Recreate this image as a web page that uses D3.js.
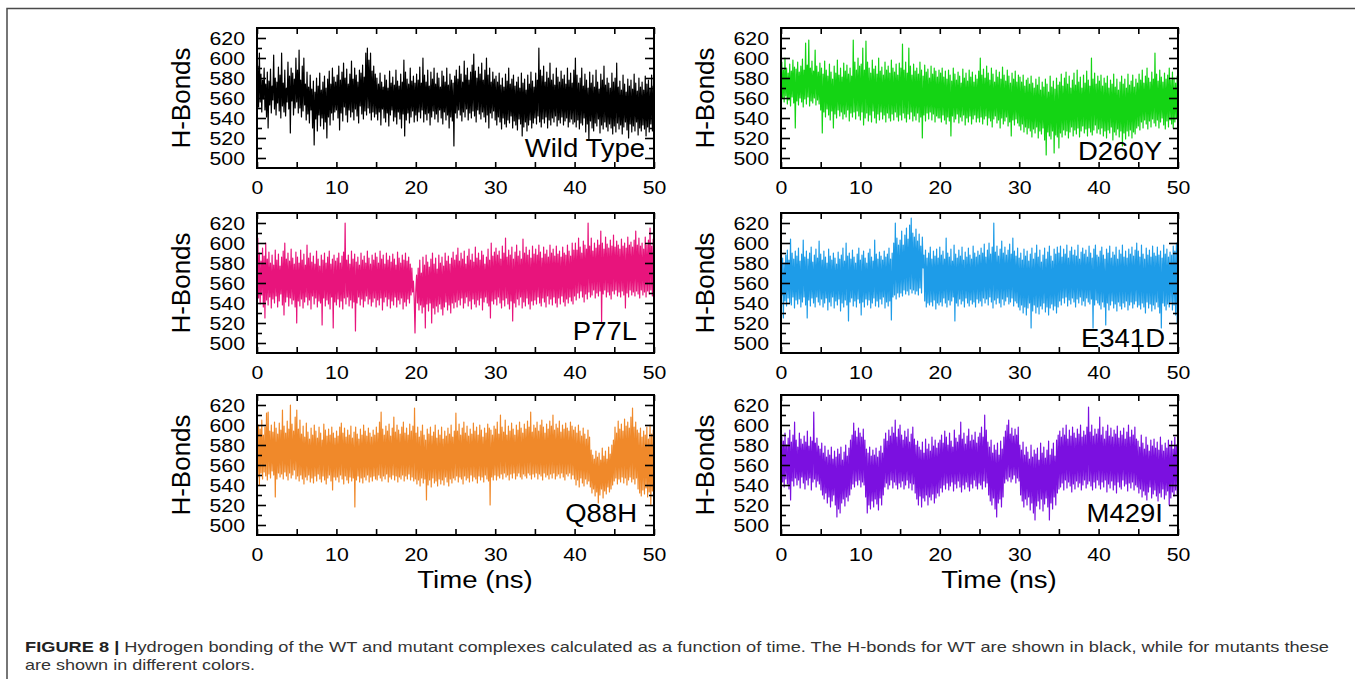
<!DOCTYPE html>
<html>
<head>
<meta charset="utf-8">
<script src="https://cdn.jsdelivr.net/npm/d3@7"></script>
<style>
  html, body { margin: 0; padding: 0; background: #fff; }
  svg { display: block; }
  text { font-family: "Liberation Sans", Arial, Helvetica, sans-serif; }
</style>
</head>
<body>
<svg id="fig" width="1355" height="683"></svg>
<script>
// ---- data -------------------------------------------------------------
const timeRange = [0, 50];            // ns
const hbondRange = [490, 630];        // number of H-bonds
const xTickMajor = [0, 10, 20, 30, 40, 50];
const xTickMinor = [5, 15, 25, 35, 45];
const yTickMajor = [500, 520, 540, 560, 580, 600, 620];
const yTickMinor = [510, 530, 550, 570, 590, 610];
const seriesNames = ["Wild Type", "D260Y", "P77L", "E341D", "Q88H", "M429I"];

// H-bond counts sampled every ~0.1 ns over the 50 ns run (one row ≈ 5 ns)
const wildType = [
  570,592,551,605,556,584,546,578,559,590,548,574,541,586,530,577,553,589,545,572,558,603,549,580,543,576,555,591,547,583,540,605,552,575,546,588,542,570,556,596,549,582,525,590,557,585,543,579,550,600,
  556,588,545,608,550,578,541,592,547,600,553,574,538,586,544,571,535,583,548,569,530,577,513,566,539,580,527,572,543,585,532,568,540,576,529,582,536,570,520,579,541,587,533,574,545,590,538,581,546,576,
  548,583,540,592,528,578,545,586,537,595,551,580,543,589,536,574,548,584,541,597,546,579,538,590,549,583,542,576,535,588,552,585,544,593,539,581,547,605,543,610,550,598,545,605,538,587,546,592,541,584,
  544,580,538,574,546,585,533,576,549,571,540,583,536,578,545,570,532,587,543,575,548,581,537,573,541,588,534,577,546,572,539,584,530,576,544,598,522,586,538,579,545,574,535,590,541,577,547,582,536,575,
  543,584,537,578,546,591,540,575,548,600,536,583,544,576,538,588,545,572,533,586,541,579,547,590,539,574,544,585,536,580,548,571,540,587,534,582,546,576,538,590,543,573,530,584,541,578,537,575,512,582,
  545,588,540,579,548,592,543,584,537,576,546,597,541,583,549,590,538,578,545,586,540,593,547,604,542,587,536,580,548,591,544,584,539,595,546,578,541,588,536,600,543,583,530,590,545,576,540,586,547,579,
  538,582,533,576,541,585,536,573,529,580,540,571,534,584,531,577,538,590,535,574,542,579,530,583,537,572,533,576,528,581,539,570,534,585,522,575,531,579,536,568,527,583,533,574,538,586,530,577,535,571,
  540,585,534,578,542,610,536,588,531,582,539,592,535,576,541,586,530,580,538,595,533,578,540,584,536,573,542,590,532,581,538,576,535,587,541,579,533,583,537,574,540,590,531,578,536,585,539,575,534,588,
  536,600,531,583,538,575,529,580,535,590,533,572,540,584,526,578,534,570,518,586,537,575,530,583,527,571,535,588,532,576,539,569,525,584,533,578,529,592,536,573,531,580,527,575,534,570,530,585,524,576,
  532,580,526,595,535,571,529,577,533,568,524,583,531,574,536,566,528,579,520,572,534,578,526,569,532,584,527,575,536,567,523,580,530,571,527,576,533,568,529,582,522,574,531,578,526,569,534,583,527,572,
  545
];
const d260y = [
  575,596,560,588,556,600,562,590,554,585,558,594,552,587,561,598,555,591,530,589,557,596,553,586,560,592,556,599,551,588,559,615,554,593,561,618,552,590,557,597,555,587,560,608,553,592,558,586,554,595,
  548,590,525,584,546,597,541,588,549,582,543,594,538,586,547,579,530,592,544,585,540,598,548,583,542,590,546,581,539,595,544,587,541,593,548,584,537,590,545,582,541,618,546,596,539,588,547,600,542,592,
  538,594,546,610,533,588,540,617,545,596,537,590,543,585,536,598,547,589,540,592,535,584,544,600,538,587,546,591,539,583,543,596,536,588,545,592,540,585,537,598,544,590,538,586,546,594,541,583,537,595,
  543,590,538,614,545,588,540,596,536,585,544,610,539,592,546,583,537,594,542,587,538,590,545,584,536,596,541,588,520,582,543,593,537,586,545,589,539,580,546,592,538,584,544,590,536,587,542,581,540,588,
  540,585,536,590,543,581,538,587,534,579,541,588,537,583,522,577,542,590,536,584,539,578,544,586,535,582,541,575,537,589,543,580,533,585,540,577,536,588,542,581,534,586,539,576,543,583,536,579,540,587,
  536,600,541,583,534,589,539,580,542,592,533,585,540,578,537,590,531,584,539,576,542,588,535,581,538,586,530,579,540,591,534,583,537,577,541,588,532,582,536,575,522,585,538,579,533,587,539,576,535,583,
  532,581,528,576,534,583,526,572,531,578,524,580,530,574,527,582,521,575,529,570,525,579,531,573,520,581,527,568,524,576,530,571,518,579,503,574,526,566,522,582,519,571,527,577,505,569,523,580,521,573,
  510,576,525,584,521,572,528,580,523,586,527,574,520,582,526,570,531,578,522,585,528,573,524,588,530,576,521,581,527,570,532,583,525,575,529,587,522,578,530,572,526,600,523,579,528,585,533,574,525,582,
  529,577,524,583,530,572,522,580,527,575,520,582,528,570,525,578,531,574,518,584,526,571,523,579,529,568,521,576,527,582,512,574,525,579,519,570,527,584,522,573,528,577,520,583,526,571,524,579,530,575,
  532,584,528,578,536,588,530,575,538,582,534,590,529,580,537,576,531,586,539,579,535,605,532,584,538,577,530,588,536,581,540,576,533,585,529,579,537,583,531,590,538,578,534,586,530,580,536,575,540,582,
  560
];
const p77l = [
  572,605,545,590,539,582,548,595,536,587,525,600,543,584,538,591,546,580,535,588,544,578,540,593,547,583,536,589,542,577,549,586,538,592,528,600,541,584,546,590,537,582,545,594,539,585,543,579,536,591,
  520,586,542,580,537,593,544,583,535,589,541,578,546,598,538,585,543,590,534,581,547,587,539,579,545,592,536,584,542,577,540,588,518,583,545,590,537,580,543,586,539,592,534,579,546,584,515,588,541,582,
  538,585,544,590,536,580,542,587,534,591,545,620,539,583,546,588,537,579,543,592,535,584,541,589,512,581,540,586,546,578,538,590,544,583,536,587,542,580,547,592,539,585,544,579,537,588,541,583,545,590,
  536,586,543,580,538,592,545,584,533,588,541,579,546,590,537,583,544,587,535,581,542,589,538,584,546,578,536,591,543,585,539,580,545,588,534,583,541,590,537,582,544,586,540,579,548,575,551,562,545,510,
  552,568,540,575,533,583,538,570,530,586,536,578,515,588,539,581,532,576,540,584,520,590,535,579,529,585,537,574,531,588,539,580,534,586,528,577,536,590,541,582,533,587,538,579,530,585,540,591,535,583,
  541,588,536,595,543,582,538,590,545,584,535,592,540,579,546,587,537,594,542,583,534,589,544,581,539,596,536,585,543,590,538,583,545,592,533,588,541,579,546,586,540,594,537,583,525,600,542,587,539,591,
  544,595,538,588,546,592,540,584,535,597,543,590,537,605,545,586,539,593,534,588,542,596,522,584,540,591,536,598,544,587,538,592,546,584,535,604,541,590,537,596,545,588,539,593,534,585,542,597,538,589,
  543,594,539,588,546,598,540,591,537,585,545,596,541,589,536,593,547,586,539,598,544,590,538,594,546,587,540,597,536,589,545,592,539,586,547,596,541,590,537,588,544,598,540,592,546,587,542,600,539,593,
  547,600,543,593,550,605,545,596,552,590,546,602,541,598,549,594,544,620,551,597,546,605,548,592,553,600,545,595,550,603,547,598,552,612,520,600,549,594,553,606,546,599,551,595,548,603,544,597,552,608,
  549,596,553,602,547,598,551,594,546,604,552,597,548,600,535,595,550,606,546,598,553,601,548,596,551,603,547,612,552,598,549,605,545,597,553,600,548,594,551,606,546,598,552,603,549,615,553,597,547,604,
  575
];
const e341d = [
  590,548,585,525,580,542,588,537,593,545,583,540,604,538,590,546,584,535,592,543,587,539,595,544,582,536,589,541,603,546,586,538,592,525,584,543,590,537,596,545,581,540,588,536,594,546,585,541,602,538,
  589,544,583,536,592,540,586,545,580,533,594,541,587,537,583,546,590,535,585,542,579,538,591,544,584,532,588,540,595,536,582,543,600,538,587,522,590,541,584,545,593,537,586,542,580,536,589,544,595,540,
  583,528,588,541,592,536,585,544,580,538,590,543,594,535,586,540,582,545,603,537,589,542,584,536,591,544,587,539,583,546,592,535,586,541,589,537,595,542,584,523,590,546,600,548,620,544,605,550,598,546,
  603,550,612,547,598,553,608,549,615,552,604,548,618,554,625,550,610,553,606,549,614,552,602,548,609,555,597,550,606,575,588,542,593,536,585,540,590,538,596,541,584,537,592,543,587,534,594,540,585,538,
  596,541,588,537,592,545,584,540,605,536,590,543,586,538,594,542,582,546,598,522,589,540,585,537,593,544,587,539,596,542,583,536,591,545,586,540,595,537,588,543,584,539,597,541,590,536,586,544,592,540,
  588,542,595,537,590,545,599,540,586,544,593,538,600,546,589,541,596,535,620,543,591,539,597,545,587,540,594,536,602,544,590,538,596,542,588,546,593,539,599,541,589,545,605,537,592,542,587,540,595,536,
  585,533,590,538,583,530,594,536,587,528,592,535,582,540,589,515,595,532,584,538,590,530,598,536,586,529,593,537,581,534,588,540,595,531,584,536,591,528,597,535,587,539,582,533,594,537,589,530,596,536,
  590,542,597,538,586,545,594,540,589,546,598,537,585,543,592,539,596,545,588,541,593,536,587,544,598,540,584,546,591,538,595,542,589,537,593,545,586,541,597,539,590,544,585,515,594,538,598,543,588,540,
  586,538,592,534,596,541,588,536,584,518,594,540,590,533,597,538,585,542,591,535,588,539,596,532,584,541,593,537,589,534,598,540,586,536,592,542,585,533,594,538,589,541,596,535,587,539,593,542,600,536,
  592,538,586,534,598,540,589,536,584,530,595,541,588,535,593,539,586,532,597,538,590,534,587,541,596,536,588,530,592,515,585,540,598,537,589,533,594,539,586,536,591,541,588,533,597,538,592,528,600,520,
  610
];
const q88h = [
  592,548,600,540,596,552,605,546,590,553,598,549,612,545,613,551,594,547,600,554,593,550,603,528,597,546,591,552,602,548,595,551,615,546,599,553,592,549,604,545,596,552,620,547,601,550,594,555,608,546,
  615,549,596,544,605,550,591,546,599,541,588,548,602,545,593,550,586,543,597,547,590,542,600,549,594,544,587,551,598,546,592,543,585,549,601,545,595,541,589,547,596,550,590,544,598,535,592,548,587,545,
  594,548,589,543,598,550,602,546,592,541,597,549,588,545,595,542,590,548,599,544,587,547,593,518,598,545,591,549,586,543,596,547,590,542,600,548,594,545,589,550,597,543,592,548,588,544,595,549,590,546,
  598,545,592,550,603,547,613,544,596,549,590,546,599,551,594,543,601,548,589,546,597,550,608,545,593,549,600,543,595,548,591,546,598,550,603,544,592,549,597,546,590,551,601,545,594,548,599,544,617,
  546,592,541,598,545,588,539,594,547,600,542,590,546,585,525,596,540,591,545,598,538,589,547,593,542,600,544,587,539,595,546,590,541,598,545,586,540,594,548,589,543,597,539,591,546,600,542,588,547,594,
  545,612,549,594,543,601,548,590,546,597,541,603,549,592,545,599,547,589,543,596,550,591,544,602,548,594,546,598,542,590,549,600,545,595,548,588,543,597,550,592,546,601,544,597,520,595,548,590,545,599,
  550,596,545,603,549,591,547,610,551,598,546,593,552,605,548,590,550,599,545,594,551,602,547,596,552,590,546,600,549,595,552,603,548,597,546,592,551,601,549,596,547,604,552,598,550,613,546,593,551,600,
  548,597,552,603,546,594,551,600,549,605,545,598,552,592,548,601,550,596,546,604,551,599,547,610,552,595,546,601,549,597,551,604,547,593,552,600,548,596,545,602,551,597,549,594,552,603,546,599,550,595,
  546,598,540,592,545,600,538,594,547,589,542,597,539,591,546,586,541,595,544,588,538,575,532,570,536,566,529,574,533,568,522,572,530,565,536,577,527,569,534,574,531,566,538,578,533,571,536,580,540,585,
  544,598,547,592,541,604,546,596,543,601,548,594,542,606,547,599,540,603,545,597,548,608,543,617,546,598,541,603,547,595,536,592,532,597,529,588,535,594,531,590,537,598,528,586,533,600,520,591,534,595,
  556
];
const m429i = [
  562,588,543,584,538,592,546,580,541,587,536,595,525,583,544,590,539,603,547,585,540,578,545,592,537,586,548,581,542,589,536,583,545,594,540,579,547,588,535,584,543,613,546,582,538,587,544,579,541,
  576,535,582,530,572,526,579,532,568,522,575,528,570,518,578,524,566,530,574,520,568,508,576,516,571,512,578,522,565,526,573,519,580,528,569,524,577,530,585,536,590,541,602,538,594,544,588,540,597,545,
  592,538,588,543,596,540,585,528,576,512,572,520,578,516,569,524,575,518,570,526,577,521,568,515,574,527,579,520,572,530,586,538,592,542,584,536,595,540,589,545,598,537,592,543,605,540,588,536,596,542,
  600,538,590,544,585,536,594,540,588,545,596,537,583,542,591,535,598,541,586,532,580,526,584,520,578,529,575,518,583,527,572,524,586,530,576,520,581,528,574,525,588,531,579,522,585,527,577,532,582,529,
  585,537,590,533,582,540,594,536,588,542,580,535,592,539,584,543,578,534,595,541,587,537,583,544,590,538,603,533,586,540,592,536,581,543,589,538,596,534,584,541,590,537,585,545,593,539,582,536,588,542,
  592,540,598,536,588,544,610,538,595,542,583,530,578,524,585,520,572,527,580,516,575,508,582,522,570,526,584,518,576,528,588,542,594,546,600,544,605,548,591,543,597,546,589,550,596,542,590,547,598,544,
  580,530,575,524,583,518,570,526,578,520,573,528,566,515,580,522,568,512,575,505,571,519,577,524,565,516,582,526,572,514,578,521,567,527,575,518,584,505,570,522,576,516,582,528,569,520,585,532,590,536,
  594,538,588,542,597,535,590,545,600,537,586,543,595,539,589,533,598,541,592,536,587,544,596,538,591,542,600,535,588,540,594,545,590,537,598,541,618,544,593,539,600,535,589,543,596,537,591,545,
  596,540,608,536,590,543,598,538,586,545,594,533,600,541,589,537,597,544,588,535,595,540,591,532,599,543,587,538,594,536,590,545,597,539,586,541,593,534,600,542,588,537,595,543,590,535,598,540,586,538,
  584,532,578,536,590,528,582,534,576,530,588,525,580,533,574,538,585,527,579,531,586,535,577,529,583,524,575,532,588,528,580,536,574,526,582,530,577,534,585,520,579,527,584,533,576,529,588,535,580,531,
  560
];
const seriesValues = [wildType, d260y, p77l, e341d, q88h, m429i];

// ---- styling & layout -------------------------------------------------
const seriesColors = ["#000000", "#14d414", "#e8147c", "#1e9ce8", "#f0892a", "#7b10e0"];
const colX = [257, 781];
const rowY = [28, 213, 395];
const W = 397, H = 140;
// right / bottom inset of each panel's name label
const labelInset = [[9, 11], [16, 8], [17, 13], [13, 6], [17, 13], [15, 13]];
const FONT = '"Liberation Sans", Arial, Helvetica, sans-serif';
const tickScale = 1.12;

const svg = d3.select("#fig");

// outer figure border (top and left)
svg.append("path")
  .attr("d", "M7,679V8.5H1355")
  .attr("fill", "none")
  .attr("stroke", "#4a4a4a")
  .attr("stroke-width", 1.5);

const x = d3.scaleLinear().domain(timeRange).range([0, W]);
const y = d3.scaleLinear().domain(hbondRange).range([H, 0]);

function styleAxis(sel) {
  sel.select(".domain").remove();
  sel.attr("font-family", FONT).attr("font-size", 19);
  sel.selectAll(".tick line").attr("stroke", "#000").attr("stroke-width", 1.6);
  sel.selectAll(".tick text").attr("fill", "#000");
}

seriesValues.forEach((vals, k) => {
  const col = k % 2, row = Math.floor(k / 2);
  const g = svg.append("g").attr("transform", `translate(${colX[col]},${rowY[row]})`);

  g.append("clipPath").attr("id", "clip" + k)
    .append("rect").attr("width", W).attr("height", H);

  const step = (timeRange[1] - timeRange[0]) / (vals.length - 1);
  const line = d3.line()
    .x((d, i) => x(timeRange[0] + i * step))
    .y(d => y(d));

  g.append("path")
    .datum(vals)
    .attr("clip-path", `url(#clip${k})`)
    .attr("d", line)
    .attr("fill", "none")
    .attr("stroke", seriesColors[k])
    .attr("stroke-width", 1.2)
    .attr("stroke-linejoin", "round");

  // x axis: labelled major ticks + minor ticks, bottom and top, pointing inward
  const xb = g.append("g").attr("transform", `translate(0,${H})`)
    .call(d3.axisBottom(x).tickValues(xTickMajor).tickSize(-6).tickPadding(12.5).tickFormat(d3.format("d")))
    .call(styleAxis);
  xb.selectAll(".tick text").attr("transform", `scale(${tickScale},1)`);
  g.append("g").attr("transform", `translate(0,${H})`)
    .call(d3.axisBottom(x).tickValues(xTickMinor).tickSize(-6).tickFormat(""))
    .call(styleAxis);
  g.append("g")
    .call(d3.axisTop(x).tickValues(xTickMajor.concat(xTickMinor)).tickSize(-6).tickFormat(""))
    .call(styleAxis);

  // y axis: labelled ticks every 20, short ticks in between, left and right
  const yl = g.append("g")
    .call(d3.axisLeft(y).tickValues(yTickMajor).tickSize(-9).tickPadding(10.7).tickFormat(d3.format("d")))
    .call(styleAxis);
  yl.selectAll(".tick text").attr("transform", `scale(${tickScale},1)`);
  g.append("g")
    .call(d3.axisLeft(y).tickValues(yTickMinor).tickSize(-5).tickFormat(""))
    .call(styleAxis);
  g.append("g").attr("transform", `translate(${W},0)`)
    .call(d3.axisRight(y).tickValues(yTickMajor).tickSize(-9).tickFormat(""))
    .call(styleAxis);
  g.append("g").attr("transform", `translate(${W},0)`)
    .call(d3.axisRight(y).tickValues(yTickMinor).tickSize(-5).tickFormat(""))
    .call(styleAxis);

  // frame
  g.append("rect")
    .attr("width", W).attr("height", H)
    .attr("fill", "none").attr("stroke", "#000").attr("stroke-width", 2);

  // panel name
  const [ix, iy] = labelInset[k];
  g.append("text")
    .attr("transform", `translate(${W - ix},${H - iy}) scale(1.1,1)`)
    .attr("text-anchor", "end")
    .attr("font-size", 25)
    .attr("fill", "#000")
    .text(seriesNames[k]);

  // y axis title
  g.append("text")
    .attr("transform", `translate(-76,${H / 2}) rotate(-90)`)
    .attr("text-anchor", "middle")
    .attr("dy", "0.36em")
    .attr("font-size", 26)
    .attr("fill", "#000")
    .text("H-Bonds");

  // x axis title on the bottom row
  if (row === 2) {
    g.append("text")
      .attr("transform", `translate(218,${H + 44}) scale(1.15,1)`)
      .attr("text-anchor", "middle")
      .attr("dy", "0.36em")
      .attr("font-size", 24)
      .attr("fill", "#000")
      .text("Time (ns)");
  }
});

// caption
const cap1 = svg.append("text")
  .attr("x", 25).attr("y", 652)
  .attr("font-size", 15)
  .attr("fill", "#333")
  .attr("textLength", 1304)
  .attr("lengthAdjust", "spacingAndGlyphs");
cap1.append("tspan").attr("font-weight", "bold").attr("fill", "#222").text("FIGURE 8 | ");
cap1.append("tspan").text("Hydrogen bonding of the WT and mutant complexes calculated as a function of time. The H-bonds for WT are shown in black, while for mutants these");
svg.append("text")
  .attr("x", 25).attr("y", 670)
  .attr("font-size", 15)
  .attr("fill", "#333")
  .attr("textLength", 230)
  .attr("lengthAdjust", "spacingAndGlyphs")
  .text("are shown in different colors.");
</script>
</body>
</html>
